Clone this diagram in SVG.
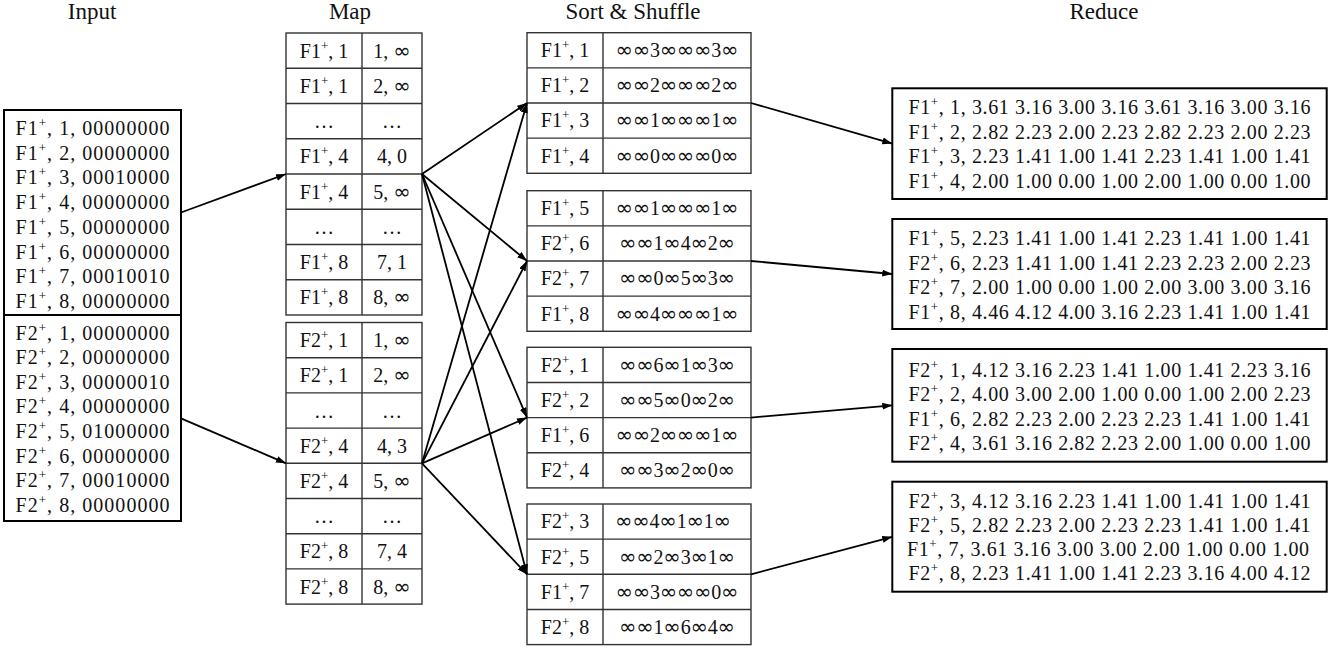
<svg xmlns="http://www.w3.org/2000/svg" width="1337" height="651" viewBox="0 0 1337 651">
<style>
text{font-family:"Liberation Serif","Times New Roman",serif;fill:#111;}
.title{font-size:23px;text-anchor:middle;}
.t{font-size:20px;text-anchor:middle;}
.sup{font-size:13px;}
.i{font-family:"DejaVu Sans",sans-serif;font-size:21px;}
.cell{fill:#fff;stroke:#333;stroke-width:1.4;}
.grid{stroke:#333;stroke-width:1.4;}
.box{fill:#fff;stroke:#000;stroke-width:2;}
.conn line{stroke:#000;stroke-width:1.8;marker-end:url(#arr);}
</style>
<defs>
<marker id="arr" markerUnits="userSpaceOnUse" markerWidth="11" markerHeight="8" refX="10" refY="3.5" orient="auto">
<path d="M0,0 L10,3.5 L0,7 z" fill="#000"/>
</marker>
</defs>
<rect width="1337" height="651" fill="#fff"/>

<g id="titles">
<text class="title" x="92" y="19">Input</text>
<text class="title" x="350" y="19">Map</text>
<text class="title" x="633" y="19">Sort &amp; Shuffle</text>
<text class="title" x="1104" y="19">Reduce</text>
</g>

<g id="input">
<rect class="box" x="4" y="110" width="177" height="411"/>
<line x1="4" y1="315" x2="181" y2="315" stroke="#000" stroke-width="2"/>
<text class="t" x="92.5" y="135" textLength="154">F1<tspan class="sup" dy="-8">+</tspan><tspan dy="8">, 1, 00000000</tspan></text>
<text class="t" x="92.5" y="159.7" textLength="154">F1<tspan class="sup" dy="-8">+</tspan><tspan dy="8">, 2, 00000000</tspan></text>
<text class="t" x="92.5" y="184.4" textLength="154">F1<tspan class="sup" dy="-8">+</tspan><tspan dy="8">, 3, 00010000</tspan></text>
<text class="t" x="92.5" y="209.1" textLength="154">F1<tspan class="sup" dy="-8">+</tspan><tspan dy="8">, 4, 00000000</tspan></text>
<text class="t" x="92.5" y="233.8" textLength="154">F1<tspan class="sup" dy="-8">+</tspan><tspan dy="8">, 5, 00000000</tspan></text>
<text class="t" x="92.5" y="258.5" textLength="154">F1<tspan class="sup" dy="-8">+</tspan><tspan dy="8">, 6, 00000000</tspan></text>
<text class="t" x="92.5" y="283.2" textLength="154">F1<tspan class="sup" dy="-8">+</tspan><tspan dy="8">, 7, 00010010</tspan></text>
<text class="t" x="92.5" y="307.9" textLength="154">F1<tspan class="sup" dy="-8">+</tspan><tspan dy="8">, 8, 00000000</tspan></text>
<text class="t" x="92.5" y="339.5" textLength="154">F2<tspan class="sup" dy="-8">+</tspan><tspan dy="8">, 1, 00000000</tspan></text>
<text class="t" x="92.5" y="364.1" textLength="154">F2<tspan class="sup" dy="-8">+</tspan><tspan dy="8">, 2, 00000000</tspan></text>
<text class="t" x="92.5" y="388.7" textLength="154">F2<tspan class="sup" dy="-8">+</tspan><tspan dy="8">, 3, 00000010</tspan></text>
<text class="t" x="92.5" y="413.3" textLength="154">F2<tspan class="sup" dy="-8">+</tspan><tspan dy="8">, 4, 00000000</tspan></text>
<text class="t" x="92.5" y="437.9" textLength="154">F2<tspan class="sup" dy="-8">+</tspan><tspan dy="8">, 5, 01000000</tspan></text>
<text class="t" x="92.5" y="462.5" textLength="154">F2<tspan class="sup" dy="-8">+</tspan><tspan dy="8">, 6, 00000000</tspan></text>
<text class="t" x="92.5" y="487.1" textLength="154">F2<tspan class="sup" dy="-8">+</tspan><tspan dy="8">, 7, 00010000</tspan></text>
<text class="t" x="92.5" y="511.7" textLength="154">F2<tspan class="sup" dy="-8">+</tspan><tspan dy="8">, 8, 00000000</tspan></text>
</g>

<g id="map1">
<rect class="cell" x="286" y="33" width="136" height="282"/>
<line class="grid" x1="362" y1="33" x2="362" y2="315"/>
<line class="grid" x1="286" y1="68.25" x2="422" y2="68.25"/>
<line class="grid" x1="286" y1="103.5" x2="422" y2="103.5"/>
<line class="grid" x1="286" y1="138.75" x2="422" y2="138.75"/>
<line class="grid" x1="286" y1="174" x2="422" y2="174"/>
<line class="grid" x1="286" y1="209.25" x2="422" y2="209.25"/>
<line class="grid" x1="286" y1="244.5" x2="422" y2="244.5"/>
<line class="grid" x1="286" y1="279.75" x2="422" y2="279.75"/>
<text class="t" x="324" y="57.6">F1<tspan class="sup" dy="-8">+</tspan><tspan dy="8">, 1</tspan></text>
<text class="t" x="392" y="57.6">1, <tspan class="i">∞</tspan></text>
<text class="t" x="324" y="92.9">F1<tspan class="sup" dy="-8">+</tspan><tspan dy="8">, 1</tspan></text>
<text class="t" x="392" y="92.9">2, <tspan class="i">∞</tspan></text>
<text class="t" x="324" y="128.1">…</text>
<text class="t" x="392" y="128.1">…</text>
<text class="t" x="324" y="163.4">F1<tspan class="sup" dy="-8">+</tspan><tspan dy="8">, 4</tspan></text>
<text class="t" x="392" y="163.4">4, 0</text>
<text class="t" x="324" y="198.6">F1<tspan class="sup" dy="-8">+</tspan><tspan dy="8">, 4</tspan></text>
<text class="t" x="392" y="198.6">5, <tspan class="i">∞</tspan></text>
<text class="t" x="324" y="233.9">…</text>
<text class="t" x="392" y="233.9">…</text>
<text class="t" x="324" y="269.1">F1<tspan class="sup" dy="-8">+</tspan><tspan dy="8">, 8</tspan></text>
<text class="t" x="392" y="269.1">7, 1</text>
<text class="t" x="324" y="304.4">F1<tspan class="sup" dy="-8">+</tspan><tspan dy="8">, 8</tspan></text>
<text class="t" x="392" y="304.4">8, <tspan class="i">∞</tspan></text>
</g>

<g id="map2">
<rect class="cell" x="286" y="322.5" width="136" height="281.6"/>
<line class="grid" x1="362" y1="322.5" x2="362" y2="604.1"/>
<line class="grid" x1="286" y1="357.7" x2="422" y2="357.7"/>
<line class="grid" x1="286" y1="392.9" x2="422" y2="392.9"/>
<line class="grid" x1="286" y1="428.1" x2="422" y2="428.1"/>
<line class="grid" x1="286" y1="463.3" x2="422" y2="463.3"/>
<line class="grid" x1="286" y1="498.5" x2="422" y2="498.5"/>
<line class="grid" x1="286" y1="533.7" x2="422" y2="533.7"/>
<line class="grid" x1="286" y1="568.9" x2="422" y2="568.9"/>
<text class="t" x="324" y="347.1">F2<tspan class="sup" dy="-8">+</tspan><tspan dy="8">, 1</tspan></text>
<text class="t" x="392" y="347.1">1, <tspan class="i">∞</tspan></text>
<text class="t" x="324" y="382.3">F2<tspan class="sup" dy="-8">+</tspan><tspan dy="8">, 1</tspan></text>
<text class="t" x="392" y="382.3">2, <tspan class="i">∞</tspan></text>
<text class="t" x="324" y="417.5">…</text>
<text class="t" x="392" y="417.5">…</text>
<text class="t" x="324" y="452.7">F2<tspan class="sup" dy="-8">+</tspan><tspan dy="8">, 4</tspan></text>
<text class="t" x="392" y="452.7">4, 3</text>
<text class="t" x="324" y="487.9">F2<tspan class="sup" dy="-8">+</tspan><tspan dy="8">, 4</tspan></text>
<text class="t" x="392" y="487.9">5, <tspan class="i">∞</tspan></text>
<text class="t" x="324" y="523.1">…</text>
<text class="t" x="392" y="523.1">…</text>
<text class="t" x="324" y="558.3">F2<tspan class="sup" dy="-8">+</tspan><tspan dy="8">, 8</tspan></text>
<text class="t" x="392" y="558.3">7, 4</text>
<text class="t" x="324" y="593.5">F2<tspan class="sup" dy="-8">+</tspan><tspan dy="8">, 8</tspan></text>
<text class="t" x="392" y="593.5">8, <tspan class="i">∞</tspan></text>
</g>

<g id="sort1">
<rect class="cell" x="527" y="32.7" width="224" height="140.6"/>
<line class="grid" x1="603" y1="32.7" x2="603" y2="173.3"/>
<line class="grid" x1="527" y1="67.85" x2="751" y2="67.85"/>
<line class="grid" x1="527" y1="103" x2="751" y2="103"/>
<line class="grid" x1="527" y1="138.15" x2="751" y2="138.15"/>
<text class="t" x="565" y="57">F1<tspan class="sup" dy="-8">+</tspan><tspan dy="8">, 1</tspan></text>
<text class="t" x="677" y="57" textLength="122.8"><tspan class="i">∞∞</tspan>3<tspan class="i">∞∞∞</tspan>3<tspan class="i">∞</tspan></text>
<text class="t" x="565" y="92.2">F1<tspan class="sup" dy="-8">+</tspan><tspan dy="8">, 2</tspan></text>
<text class="t" x="677" y="92.2" textLength="122.8"><tspan class="i">∞∞</tspan>2<tspan class="i">∞∞∞</tspan>2<tspan class="i">∞</tspan></text>
<text class="t" x="565" y="127.3">F1<tspan class="sup" dy="-8">+</tspan><tspan dy="8">, 3</tspan></text>
<text class="t" x="677" y="127.3" textLength="122.8"><tspan class="i">∞∞</tspan>1<tspan class="i">∞∞∞</tspan>1<tspan class="i">∞</tspan></text>
<text class="t" x="565" y="162.5">F1<tspan class="sup" dy="-8">+</tspan><tspan dy="8">, 4</tspan></text>
<text class="t" x="677" y="162.5" textLength="122.8"><tspan class="i">∞∞</tspan>0<tspan class="i">∞∞∞</tspan>0<tspan class="i">∞</tspan></text>
</g>

<g id="sort2">
<rect class="cell" x="527" y="190.7" width="224" height="140.6"/>
<line class="grid" x1="603" y1="190.7" x2="603" y2="331.3"/>
<line class="grid" x1="527" y1="225.85" x2="751" y2="225.85"/>
<line class="grid" x1="527" y1="261" x2="751" y2="261"/>
<line class="grid" x1="527" y1="296.15" x2="751" y2="296.15"/>
<text class="t" x="565" y="215">F1<tspan class="sup" dy="-8">+</tspan><tspan dy="8">, 5</tspan></text>
<text class="t" x="677" y="215" textLength="122.8"><tspan class="i">∞∞</tspan>1<tspan class="i">∞∞∞</tspan>1<tspan class="i">∞</tspan></text>
<text class="t" x="565" y="250.2">F2<tspan class="sup" dy="-8">+</tspan><tspan dy="8">, 6</tspan></text>
<text class="t" x="677" y="250.2" textLength="115.8"><tspan class="i">∞∞</tspan>1<tspan class="i">∞</tspan>4<tspan class="i">∞</tspan>2<tspan class="i">∞</tspan></text>
<text class="t" x="565" y="285.3">F2<tspan class="sup" dy="-8">+</tspan><tspan dy="8">, 7</tspan></text>
<text class="t" x="677" y="285.3" textLength="115.8"><tspan class="i">∞∞</tspan>0<tspan class="i">∞</tspan>5<tspan class="i">∞</tspan>3<tspan class="i">∞</tspan></text>
<text class="t" x="565" y="320.5">F1<tspan class="sup" dy="-8">+</tspan><tspan dy="8">, 8</tspan></text>
<text class="t" x="677" y="320.5" textLength="122.8"><tspan class="i">∞∞</tspan>4<tspan class="i">∞∞∞</tspan>1<tspan class="i">∞</tspan></text>
</g>

<g id="sort3">
<rect class="cell" x="527" y="347.3" width="224" height="140.6"/>
<line class="grid" x1="603" y1="347.3" x2="603" y2="487.9"/>
<line class="grid" x1="527" y1="382.45" x2="751" y2="382.45"/>
<line class="grid" x1="527" y1="417.6" x2="751" y2="417.6"/>
<line class="grid" x1="527" y1="452.75" x2="751" y2="452.75"/>
<text class="t" x="565" y="371.6">F2<tspan class="sup" dy="-8">+</tspan><tspan dy="8">, 1</tspan></text>
<text class="t" x="677" y="371.6" textLength="115.8"><tspan class="i">∞∞</tspan>6<tspan class="i">∞</tspan>1<tspan class="i">∞</tspan>3<tspan class="i">∞</tspan></text>
<text class="t" x="565" y="406.8">F2<tspan class="sup" dy="-8">+</tspan><tspan dy="8">, 2</tspan></text>
<text class="t" x="677" y="406.8" textLength="115.8"><tspan class="i">∞∞</tspan>5<tspan class="i">∞</tspan>0<tspan class="i">∞</tspan>2<tspan class="i">∞</tspan></text>
<text class="t" x="565" y="441.9">F1<tspan class="sup" dy="-8">+</tspan><tspan dy="8">, 6</tspan></text>
<text class="t" x="677" y="441.9" textLength="122.8"><tspan class="i">∞∞</tspan>2<tspan class="i">∞∞∞</tspan>1<tspan class="i">∞</tspan></text>
<text class="t" x="565" y="477.1">F2<tspan class="sup" dy="-8">+</tspan><tspan dy="8">, 4</tspan></text>
<text class="t" x="677" y="477.1" textLength="115.8"><tspan class="i">∞∞</tspan>3<tspan class="i">∞</tspan>2<tspan class="i">∞</tspan>0<tspan class="i">∞</tspan></text>
</g>

<g id="sort4">
<rect class="cell" x="527" y="504" width="224" height="140.6"/>
<line class="grid" x1="603" y1="504" x2="603" y2="644.6"/>
<line class="grid" x1="527" y1="539.15" x2="751" y2="539.15"/>
<line class="grid" x1="527" y1="574.3" x2="751" y2="574.3"/>
<line class="grid" x1="527" y1="609.45" x2="751" y2="609.45"/>
<text class="t" x="565" y="528.3">F2<tspan class="sup" dy="-8">+</tspan><tspan dy="8">, 3</tspan></text>
<text class="t" x="673" y="528.3" textLength="115.8"><tspan class="i">∞∞</tspan>4<tspan class="i">∞</tspan>1<tspan class="i">∞</tspan>1<tspan class="i">∞</tspan></text>
<text class="t" x="565" y="563.5">F2<tspan class="sup" dy="-8">+</tspan><tspan dy="8">, 5</tspan></text>
<text class="t" x="677" y="563.5" textLength="115.8"><tspan class="i">∞∞</tspan>2<tspan class="i">∞</tspan>3<tspan class="i">∞</tspan>1<tspan class="i">∞</tspan></text>
<text class="t" x="565" y="598.6">F1<tspan class="sup" dy="-8">+</tspan><tspan dy="8">, 7</tspan></text>
<text class="t" x="677" y="598.6" textLength="122.8"><tspan class="i">∞∞</tspan>3<tspan class="i">∞∞∞</tspan>0<tspan class="i">∞</tspan></text>
<text class="t" x="565" y="633.8">F2<tspan class="sup" dy="-8">+</tspan><tspan dy="8">, 8</tspan></text>
<text class="t" x="677" y="633.8" textLength="115.8"><tspan class="i">∞∞</tspan>1<tspan class="i">∞</tspan>6<tspan class="i">∞</tspan>4<tspan class="i">∞</tspan></text>
</g>

<g id="reduce1">
<rect class="box" x="892.3" y="88.3" width="434.4" height="110.7"/>
<text class="t" x="1109.5" y="114.3" textLength="402">F1<tspan class="sup" dy="-8">+</tspan><tspan dy="8">, 1, 3.61 3.16 3.00 3.16 3.61 3.16 3.00 3.16</tspan></text>
<text class="t" x="1109.5" y="138.7" textLength="402">F1<tspan class="sup" dy="-8">+</tspan><tspan dy="8">, 2, 2.82 2.23 2.00 2.23 2.82 2.23 2.00 2.23</tspan></text>
<text class="t" x="1109.5" y="163" textLength="402">F1<tspan class="sup" dy="-8">+</tspan><tspan dy="8">, 3, 2.23 1.41 1.00 1.41 2.23 1.41 1.00 1.41</tspan></text>
<text class="t" x="1109.5" y="187.7" textLength="402">F1<tspan class="sup" dy="-8">+</tspan><tspan dy="8">, 4, 2.00 1.00 0.00 1.00 2.00 1.00 0.00 1.00</tspan></text>
</g>

<g id="reduce2">
<rect class="box" x="892.3" y="219" width="434.4" height="110"/>
<text class="t" x="1109.5" y="245.3" textLength="402">F1<tspan class="sup" dy="-8">+</tspan><tspan dy="8">, 5, 2.23 1.41 1.00 1.41 2.23 1.41 1.00 1.41</tspan></text>
<text class="t" x="1109.5" y="269.7" textLength="402">F2<tspan class="sup" dy="-8">+</tspan><tspan dy="8">, 6, 2.23 1.41 1.00 1.41 2.23 2.23 2.00 2.23</tspan></text>
<text class="t" x="1109.5" y="294.3" textLength="402">F2<tspan class="sup" dy="-8">+</tspan><tspan dy="8">, 7, 2.00 1.00 0.00 1.00 2.00 3.00 3.00 3.16</tspan></text>
<text class="t" x="1109.5" y="318.7" textLength="402">F1<tspan class="sup" dy="-8">+</tspan><tspan dy="8">, 8, 4.46 4.12 4.00 3.16 2.23 1.41 1.00 1.41</tspan></text>
</g>

<g id="reduce3">
<rect class="box" x="892.3" y="349" width="434.4" height="112.7"/>
<text class="t" x="1109.5" y="377" textLength="402">F2<tspan class="sup" dy="-8">+</tspan><tspan dy="8">, 1, 4.12 3.16 2.23 1.41 1.00 1.41 2.23 3.16</tspan></text>
<text class="t" x="1109.5" y="401.3" textLength="402">F2<tspan class="sup" dy="-8">+</tspan><tspan dy="8">, 2, 4.00 3.00 2.00 1.00 0.00 1.00 2.00 2.23</tspan></text>
<text class="t" x="1109.5" y="425.7" textLength="402">F1<tspan class="sup" dy="-8">+</tspan><tspan dy="8">, 6, 2.82 2.23 2.00 2.23 2.23 1.41 1.00 1.41</tspan></text>
<text class="t" x="1109.5" y="450.3" textLength="402">F2<tspan class="sup" dy="-8">+</tspan><tspan dy="8">, 4, 3.61 3.16 2.82 2.23 2.00 1.00 0.00 1.00</tspan></text>
</g>

<g id="reduce4">
<rect class="box" x="892.3" y="481.7" width="434.4" height="110"/>
<text class="t" x="1109.5" y="508" textLength="402">F2<tspan class="sup" dy="-8">+</tspan><tspan dy="8">, 3, 4.12 3.16 2.23 1.41 1.00 1.41 1.00 1.41</tspan></text>
<text class="t" x="1109.5" y="532.3" textLength="402">F2<tspan class="sup" dy="-8">+</tspan><tspan dy="8">, 5, 2.82 2.23 2.00 2.23 2.23 1.41 1.00 1.41</tspan></text>
<text class="t" x="1108" y="556" textLength="402">F1<tspan class="sup" dy="-8">+</tspan><tspan dy="8">, 7, 3.61 3.16 3.00 3.00 2.00 1.00 0.00 1.00</tspan></text>
<text class="t" x="1109.5" y="580.3" textLength="402">F2<tspan class="sup" dy="-8">+</tspan><tspan dy="8">, 8, 2.23 1.41 1.00 1.41 2.23 3.16 4.00 4.12</tspan></text>
</g>

<g id="connectors" class="conn">
<line x1="181" y1="212.5" x2="286" y2="174"/>
<line x1="181" y1="418.3" x2="286" y2="463.3"/>
<line x1="422" y1="174" x2="527" y2="103"/>
<line x1="422" y1="174" x2="527" y2="261"/>
<line x1="422" y1="174" x2="527" y2="417.6"/>
<line x1="422" y1="174" x2="527" y2="574.3"/>
<line x1="422" y1="463.3" x2="527" y2="103"/>
<line x1="422" y1="463.3" x2="527" y2="261"/>
<line x1="422" y1="463.3" x2="527" y2="417.6"/>
<line x1="422" y1="463.3" x2="527" y2="574.3"/>
<line x1="751" y1="103" x2="892.3" y2="143.6"/>
<line x1="751" y1="261" x2="892.3" y2="274"/>
<line x1="751" y1="417.6" x2="892.3" y2="405.3"/>
<line x1="751" y1="574.3" x2="892.3" y2="536.8"/>
</g>
</svg>
